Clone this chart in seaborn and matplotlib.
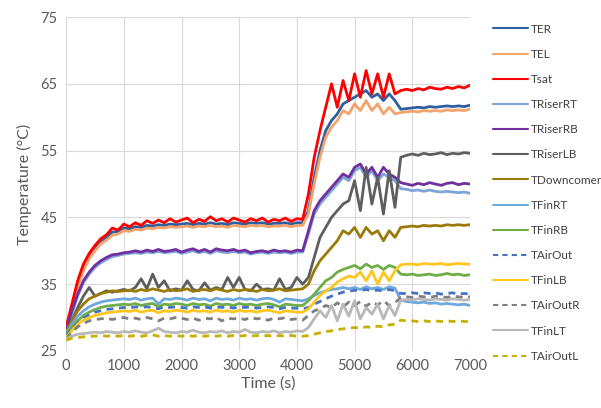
import numpy as np
import pandas as pd
import seaborn as sns
import matplotlib.pyplot as plt

# sampled every 100 s, 0 .. 7000 s
time_s = np.arange(0, 7001, 100)

TER = [
    28.3, 31.5, 35.0, 37.5, 39.2, 40.4, 41.4, 42.0, 42.8, 42.9,
    43.4, 43.3, 43.6, 43.5, 43.8, 43.7, 43.9, 43.8, 44.0, 43.9,
    44.0, 44.1, 43.9, 44.1, 44.0, 44.2, 44.0, 44.1, 43.9, 44.2,
    44.1, 44.0, 44.2, 44.1, 44.2, 44.0, 44.1, 44.1, 44.2, 44.0,
    44.2, 44.2, 46.0, 51.0, 55.0, 58.0, 59.5, 60.5, 62.0, 62.5,
    63.0, 63.5, 64.0, 63.0, 63.5, 62.5, 63.5, 62.5, 61.2, 61.3,
    61.4, 61.5, 61.4, 61.6, 61.5, 61.6, 61.7, 61.6, 61.7, 61.6, 61.8]
TEL = [
    28.0, 31.0, 34.5, 37.0, 38.8, 40.0, 41.0, 41.6, 42.3, 42.5,
    43.0, 42.9, 43.2, 43.1, 43.4, 43.3, 43.5, 43.4, 43.6, 43.5,
    43.6, 43.7, 43.5, 43.7, 43.6, 43.8, 43.6, 43.7, 43.5, 43.8,
    43.7, 43.6, 43.8, 43.7, 43.8, 43.6, 43.7, 43.7, 43.8, 43.6,
    43.8, 43.8, 45.5, 50.0, 54.0, 57.0, 58.5, 59.5, 61.0, 60.5,
    62.0, 61.0, 62.5, 61.0, 62.0, 60.5, 61.5, 60.5, 60.7, 60.8,
    60.9, 60.8, 61.0, 60.9, 61.0, 60.9, 61.1, 61.0, 61.1, 61.0, 61.2]
Tsat = [
    28.5, 32.0, 35.5, 38.0, 39.6, 40.8, 41.8, 42.4, 43.4, 43.1,
    44.0, 43.6, 44.2, 43.8, 44.5, 44.1, 44.6, 44.2, 44.8, 44.3,
    44.6, 44.9, 44.2, 44.7, 44.4, 45.1, 44.5, 44.8, 44.3, 44.9,
    44.6, 44.3, 44.8, 44.5, 44.9, 44.3, 44.7, 44.5, 44.9, 44.4,
    44.8, 44.7, 48.5, 54.0, 58.0, 61.5, 65.0, 61.5, 65.5, 62.5,
    66.5, 63.0, 67.0, 63.5, 66.5, 63.0, 66.5, 63.5, 64.0, 64.2,
    64.0, 64.3, 64.1, 64.5, 64.3, 64.2, 64.5, 64.3, 64.6, 64.4, 64.8]
TRiserRT = [
    27.8, 30.6, 33.2, 35.2, 36.5, 37.5, 38.2, 38.7, 39.1, 39.3,
    39.5, 39.6, 39.7, 39.6, 39.8, 39.7, 39.9, 39.7, 39.8, 39.9,
    39.6, 39.8, 40.0, 39.7, 39.9, 39.6, 40.0, 39.8, 39.7, 39.9,
    39.7, 39.8, 39.5, 39.7, 39.8, 39.6, 39.8, 39.7, 39.8, 39.6,
    39.8, 39.8, 42.5, 45.5, 47.0, 48.0, 49.0, 50.0, 51.0, 50.5,
    52.0, 52.5, 51.0, 52.0, 50.5, 51.5, 51.0, 50.5, 49.3, 49.2,
    49.0, 49.1, 48.9, 49.1, 48.9, 48.8, 48.9, 48.8, 48.7, 48.8, 48.6]
TRiserRB = [
    28.0, 31.0, 33.5, 35.5, 36.8, 37.8, 38.5, 39.0, 39.4, 39.5,
    39.7, 39.8, 40.0, 39.8, 40.1, 39.9, 40.2, 39.9, 40.0, 40.2,
    39.8, 40.1, 40.3, 39.9, 40.2, 39.8, 40.3, 40.1, 40.0, 40.2,
    39.9, 40.1, 39.7, 39.9, 40.0, 39.8, 40.1, 39.9, 40.0, 39.8,
    40.1, 40.0, 43.0, 46.0, 47.5, 48.5, 49.5, 50.5, 51.5, 51.0,
    52.5, 53.0, 51.5, 52.5, 51.0, 52.5, 51.5, 51.0, 50.2, 50.0,
    49.8, 50.1, 49.9, 50.2, 50.0, 49.8, 50.1, 50.2, 49.9, 50.1, 50.0]
TRiserLB = [
    27.5, 29.5, 31.5, 33.2, 34.5, 33.2, 33.6, 34.0, 33.8, 34.0,
    34.2, 34.0, 34.5, 35.8, 34.3, 36.5, 34.5, 35.5, 34.0, 34.3,
    34.1, 35.5, 34.2, 34.0, 35.2, 34.1, 34.5, 34.2, 36.0, 34.5,
    36.0, 34.2, 34.0, 35.0, 34.2, 34.3, 34.1, 35.8, 34.2, 34.5,
    36.0, 35.0, 36.0, 39.0, 42.0, 43.5, 45.0, 46.0, 47.0, 47.5,
    50.5, 46.0, 52.5, 47.0, 51.0, 45.5, 52.0, 46.5, 54.0, 54.3,
    54.5, 54.3, 54.6, 54.4, 54.5, 54.7, 54.4, 54.6, 54.5, 54.7, 54.6]
TDowncomer = [
    27.8, 29.5, 31.0, 32.0, 32.8, 33.2, 33.6, 33.8, 34.0, 33.9,
    34.0, 34.1, 33.9, 34.2, 34.0, 34.3, 34.1, 33.9, 34.2, 34.0,
    34.1, 34.3, 33.9, 34.1, 34.2, 34.0, 34.3, 34.1, 33.9, 34.2,
    34.0, 34.2, 34.1, 33.9, 34.2, 34.0, 34.1, 34.3, 34.0, 34.1,
    34.2, 34.3, 35.0, 37.0, 38.5, 39.5, 40.5, 41.5, 43.0, 42.5,
    43.5, 42.0, 43.5, 42.5, 43.0, 41.5, 43.0, 42.0, 43.5, 43.6,
    43.7, 43.6, 43.8, 43.7, 43.8, 43.7, 43.9, 43.8, 43.9, 43.8, 43.9]
TFinRT = [
    27.5, 29.0, 30.2, 31.0, 31.6, 32.0, 32.3, 32.5, 32.6, 32.7,
    32.8, 32.7, 32.9, 32.6, 32.8, 32.9, 32.0, 32.8, 32.7, 32.9,
    32.8, 32.6, 32.9, 32.7, 32.8, 32.5, 32.9, 32.7, 32.8, 32.6,
    32.9, 32.7, 32.8, 32.6, 32.8, 32.9, 32.7, 32.3, 32.8, 32.7,
    32.6, 32.5, 32.8, 33.3, 33.7, 34.0, 34.2, 34.3, 34.5, 34.3,
    34.5, 34.2, 34.6, 34.3, 34.5, 34.2, 34.6, 34.4, 32.6, 32.4,
    32.3, 32.2, 32.3, 32.1, 32.2, 32.0, 32.1, 32.0, 31.9, 32.0, 31.8]
TFinRB = [
    27.3, 28.5, 29.5, 30.3, 30.8, 31.2, 31.5, 31.7, 31.8, 31.9,
    32.0, 31.9, 32.1, 31.8, 32.0, 32.1, 31.6, 32.0, 31.9, 32.1,
    32.0, 31.8, 32.1, 31.9, 32.0, 31.7, 32.1, 31.9, 32.0, 31.8,
    32.1, 31.9, 32.0, 31.8, 32.0, 32.1, 31.9, 31.6, 32.0, 31.9,
    31.8, 31.8, 32.5, 33.5, 34.5, 35.5, 36.0, 36.8, 37.2, 37.5,
    37.8, 37.3, 38.0, 37.5, 37.8, 37.2, 37.8, 37.5, 36.5, 36.4,
    36.5, 36.3, 36.4, 36.5, 36.3, 36.4, 36.6, 36.4, 36.5, 36.3, 36.4]
TAirOut = [
    27.2, 28.3, 29.2, 29.9, 30.4, 30.8, 31.0, 31.2, 31.3, 31.4,
    31.5, 31.4, 31.6, 31.5, 31.6, 31.5, 31.3, 31.6, 31.5, 31.6,
    31.5, 31.4, 31.6, 31.5, 31.6, 31.4, 31.6, 31.5, 31.6, 31.4,
    31.6, 31.5, 31.6, 31.4, 31.5, 31.6, 31.5, 31.3, 31.5, 31.4,
    31.4, 31.3, 31.5, 32.0, 32.4, 32.8, 33.2, 33.5, 33.8, 33.9,
    34.1, 34.0, 34.2, 34.0, 34.1, 34.0, 34.2, 34.0, 33.6, 33.6,
    33.7, 33.6, 33.7, 33.6, 33.7, 33.5, 33.6, 33.7, 33.5, 33.6, 33.5]
TFinLB = [
    27.0, 28.0, 29.0, 29.6, 30.0, 30.3, 30.5, 30.7, 30.8, 30.9,
    31.0, 30.9, 31.1, 30.8, 31.0, 31.1, 30.7, 31.0, 30.9, 31.1,
    31.0, 30.8, 31.1, 30.9, 31.0, 30.8, 31.1, 30.9, 31.0, 30.8,
    31.1, 30.9, 31.0, 30.8, 31.0, 31.1, 30.9, 30.7, 31.0, 30.9,
    30.8, 30.8, 31.3, 32.3, 33.3, 34.0, 34.5, 35.3, 35.8, 36.2,
    36.0, 36.8, 35.5, 37.0, 35.0, 36.8, 35.5, 37.0, 37.9, 38.0,
    38.0, 37.9, 38.1, 38.0, 38.0, 38.1, 37.9, 38.0, 38.1, 38.0, 38.0]
TAirOutR = [
    26.8, 27.8, 28.6, 29.1, 29.5, 29.7, 29.8, 29.9, 29.7, 29.9,
    30.0, 29.8, 29.9, 29.7, 30.0, 29.8, 29.5, 29.9, 29.8, 30.0,
    29.9, 29.7, 29.9, 29.6, 29.9, 29.8, 30.0, 29.5, 29.9, 29.8,
    29.9, 29.7, 30.0, 29.8, 29.9, 29.6, 29.9, 29.8, 30.0, 29.7,
    29.8, 29.6, 30.3, 31.0, 31.3, 31.8, 31.5, 32.2, 31.6, 32.3,
    31.8, 32.4, 31.7, 32.3, 31.9, 32.5, 31.8, 32.2, 33.0, 33.1,
    33.0, 33.2, 33.1, 33.0, 33.2, 33.1, 33.0, 33.2, 33.1, 33.0, 33.1]
TFinLT = [
    26.8, 27.2, 27.5, 27.6, 27.7, 27.8, 27.7, 27.9, 27.8, 27.7,
    27.9, 27.8, 28.0, 27.8, 27.7, 28.0, 28.4, 27.9, 27.8, 27.7,
    27.9, 27.8, 28.1, 27.8, 27.7, 27.9, 27.8, 28.0, 27.7, 27.9,
    27.8, 28.2, 27.8, 27.7, 27.9, 27.8, 28.0, 27.7, 27.9, 27.8,
    28.0, 27.9, 28.5, 29.8, 31.0, 30.0, 31.8, 29.5, 32.0, 30.2,
    32.5, 29.8, 31.5, 30.5, 32.0, 29.8, 31.8, 30.3, 32.6, 32.7,
    32.6, 32.8, 32.7, 32.6, 32.8, 32.7, 32.6, 32.8, 32.7, 32.6, 32.7]
TAirOutL = [
    26.6, 26.9, 27.0, 27.1, 27.2, 27.2, 27.3, 27.2, 27.3, 27.2,
    27.3, 27.2, 27.3, 27.2, 27.3, 27.4, 27.2, 27.3, 27.2, 27.3,
    27.2, 27.3, 27.2, 27.3, 27.2, 27.3, 27.2, 27.3, 27.2, 27.3,
    27.2, 27.3, 27.2, 27.3, 27.2, 27.3, 27.2, 27.3, 27.2, 27.3,
    27.2, 27.2, 27.3, 27.5, 27.7, 27.9, 28.0, 28.2, 28.3, 28.4,
    28.5, 28.4, 28.6, 28.5, 28.7, 28.6, 28.9, 29.0, 29.6, 29.5,
    29.5, 29.4, 29.5, 29.4, 29.5, 29.4, 29.5, 29.4, 29.5, 29.4, 29.4]

series = {
    "TER": TER, "TEL": TEL, "Tsat": Tsat,
    "TRiserRT": TRiserRT, "TRiserRB": TRiserRB, "TRiserLB": TRiserLB,
    "TDowncomer": TDowncomer, "TFinRT": TFinRT, "TFinRB": TFinRB,
    "TAirOut": TAirOut, "TFinLB": TFinLB, "TAirOutR": TAirOutR,
    "TFinLT": TFinLT, "TAirOutL": TAirOutL,
}
names = list(series)

colors = {
    "TER": "#2F5F9E", "TEL": "#F2A46C", "Tsat": "#FF0000",
    "TRiserRT": "#7FA4D8", "TRiserRB": "#7030A0", "TRiserLB": "#5E5E5E",
    "TDowncomer": "#9C7A0A", "TFinRT": "#6EA8DC", "TFinRB": "#70AD47",
    "TAirOut": "#4472C4", "TFinLB": "#FFC620", "TAirOutR": "#7F7F7F",
    "TFinLT": "#B8B8B8", "TAirOutL": "#C8B000",
}
dashed = {"TAirOut", "TAirOutR", "TAirOutL"}
dashes = {n: ((2.5, 2) if n in dashed else "") for n in names}

df = pd.concat(
    [pd.DataFrame({"Time": time_s, "Temp": v, "Sensor": n}) for n, v in series.items()],
    ignore_index=True,
)

sns.set_theme(style="whitegrid")
plt.rcParams["font.family"] = ["Lato", "DejaVu Sans"]
txt = "#595959"

fig = plt.figure(figsize=(6.01, 4.08), dpi=100)
ax = fig.add_axes([0.11, 0.14, 0.672, 0.818])

sns.lineplot(
    data=df, x="Time", y="Temp", hue="Sensor", style="Sensor",
    hue_order=names, style_order=names, palette=colors, dashes=dashes,
    linewidth=2.0, ax=ax, estimator=None, sort=False,
)

ax.set_xlim(0, 7000)
ax.set_ylim(25, 75)
ax.set_xticks(range(0, 7001, 1000))
ax.set_yticks(range(25, 76, 10))
ax.grid(color="#D9D9D9", linewidth=0.8)
for s in ax.spines.values():
    s.set_visible(False)
ax.tick_params(axis="both", colors=txt, labelsize=10.5, length=0, pad=6)
ax.set_xlabel("Time (s)", color=txt, fontsize=11.5, labelpad=2)
ax.set_ylabel("Temperature (°C)", color=txt, fontsize=11.5, labelpad=6)

handles, labels = ax.get_legend_handles_labels()
leg = ax.legend(
    handles, labels, loc="upper left", bbox_to_anchor=(1.045, 0.995),
    frameon=False, fontsize=8.5, labelcolor="#404040", handlelength=3.0,
    handletextpad=0.25, labelspacing=1.2, borderaxespad=0,
)
for line in leg.get_lines():
    line.set_linewidth(1.5)

fig.savefig("out.png", dpi=100)
